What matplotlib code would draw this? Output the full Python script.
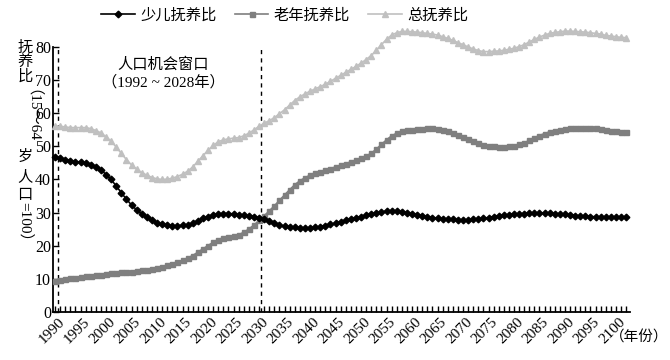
import matplotlib
matplotlib.use("Agg")
import matplotlib.pyplot as plt
from matplotlib.ticker import MultipleLocator
from matplotlib.transforms import offset_copy

plt.rcParams["font.family"] = ["Liberation Serif", "Noto Sans CJK SC", "DejaVu Sans"]
plt.rcParams["axes.unicode_minus"] = False

YEARS = list(range(1990, 2103))

# 少儿抚养比
CHILD = [46.9, 46.5, 46.0, 45.6, 45.4, 45.2, 45.0, 44.5, 43.8, 42.9,
         41.5, 40.0, 38.0, 36.0, 34.0, 32.3, 30.8, 29.6, 28.6, 27.6,
         26.9, 26.4, 26.1, 26.0, 26.0, 26.1, 26.3, 26.8, 27.5, 28.2,
         28.8, 29.3, 29.6, 29.7, 29.7, 29.6, 29.4, 29.2, 29.0, 28.8,
         28.5, 28.0, 27.3, 26.7, 26.2, 25.8, 25.6, 25.5, 25.4, 25.4,
         25.4, 25.5, 25.7, 26.0, 26.4, 26.8, 27.2, 27.6, 28.0, 28.4,
         28.8, 29.2, 29.6, 29.9, 30.2, 30.4, 30.5, 30.4, 30.2, 29.9,
         29.6, 29.3, 29.0, 28.7, 28.5, 28.3, 28.1, 28.0, 27.9, 27.8,
         27.8, 27.8, 27.9, 28.0, 28.2, 28.5, 28.8, 29.0, 29.2, 29.4,
         29.5, 29.6, 29.7, 29.8, 29.8, 29.8, 29.8, 29.8, 29.7, 29.6,
         29.5, 29.3, 29.1, 29.0, 28.9, 28.8, 28.7, 28.7, 28.6, 28.6,
         28.6, 28.6, 28.6]

# 老年抚养比
OLD = [9.3, 9.6, 9.9, 10.1, 10.3, 10.5, 10.7, 10.9, 11.0, 11.2,
       11.4, 11.6, 11.8, 11.9, 12.0, 12.1, 12.3, 12.5, 12.7, 13.0,
       13.3, 13.6, 14.0, 14.4, 14.9, 15.5, 16.2, 17.0, 18.0, 19.0,
       20.0, 21.0, 21.8, 22.3, 22.6, 22.9, 23.3, 24.0, 25.0, 26.2,
       27.6, 29.0, 30.5, 32.0, 33.7, 35.3, 36.9, 38.4, 39.6, 40.5,
       41.3, 41.9, 42.4, 42.8, 43.3, 43.8, 44.3, 44.8, 45.3, 45.8,
       46.4, 47.1, 47.9, 49.2, 50.6, 52.0, 53.2, 54.0, 54.6, 54.9,
       55.1, 55.3, 55.4, 55.5, 55.5, 55.4, 55.1, 54.7, 54.2, 53.6,
       53.0, 52.3, 51.6, 51.0, 50.5, 50.2, 50.0, 49.9, 49.9, 50.0,
       50.2, 50.6, 51.1, 51.8, 52.6, 53.3, 53.9, 54.4, 54.8, 55.1,
       55.4, 55.6, 55.7, 55.7, 55.7, 55.6, 55.5, 55.3, 55.0, 54.8,
       54.6, 54.4, 54.3]

# 总抚养比
TOTAL = [56.2, 56.1, 55.9, 55.7, 55.7, 55.7, 55.7, 55.4, 54.8, 54.1,
         52.9, 51.6, 49.8, 47.9, 46.0, 44.4, 43.1, 42.1, 41.3, 40.6,
         40.2, 40.0, 40.1, 40.4, 40.9, 41.6, 42.5, 43.8, 45.5, 47.2,
         48.8, 50.3, 51.4, 52.0, 52.3, 52.5, 52.7, 53.2, 54.0, 55.0,
         56.1, 57.0, 57.8, 58.7, 59.9, 61.1, 62.5, 63.9, 65.0, 65.9,
         66.7, 67.4, 68.1, 68.8, 69.7, 70.6, 71.5, 72.4, 73.3, 74.2,
         75.2, 76.3, 77.5, 79.1, 80.8, 82.4, 83.7, 84.4, 84.8, 84.8,
         84.7, 84.6, 84.4, 84.2, 84.0, 83.7, 83.2, 82.7, 82.1, 81.4,
         80.8, 80.1, 79.5, 79.0, 78.7, 78.7, 78.8, 78.9, 79.1, 79.4,
         79.7, 80.2, 80.8, 81.6, 82.4, 83.1, 83.7, 84.2, 84.5, 84.7,
         84.9, 84.9, 84.8, 84.7, 84.6, 84.4, 84.2, 84.0, 83.6, 83.4,
         83.2, 83.0, 82.9]

WINDOW = [1990.5, 2030.3]   # 人口机会窗口 dashed lines
XTICKS = list(range(1990, 2101, 5))
YTICKS = list(range(0, 81, 10))

fig = plt.figure(figsize=(6.7, 3.6), dpi=100)
ax = fig.add_axes([0.0784, 0.1342, 0.8619, 0.7344])

ax.plot(YEARS, TOTAL, color="#c0c0c0", marker="^", markersize=4.2, lw=1.2,
        clip_on=False, label="总抚养比", zorder=3)
ax.plot(YEARS, OLD, color="#7f7f7f", marker="s", markersize=3.6, lw=1.2,
        clip_on=False, label="老年抚养比", zorder=4)
ax.plot(YEARS, CHILD, color="black", marker="D", markersize=3.4, lw=1.2,
        clip_on=False, label="少儿抚养比", zorder=5)

for x in WINDOW:
    ax.axvline(x, color="black", lw=1.0, ls=(0, (3, 3)))

ax.set_xlim(1989.5, 2102.75)
ax.set_ylim(0, 80)
for s in ["top", "right"]:
    ax.spines[s].set_visible(False)
ax.spines["left"].set_linewidth(1.3)
ax.spines["bottom"].set_linewidth(1.3)

ax.set_xticks(XTICKS)
ax.set_yticks(YTICKS)
ax.xaxis.set_minor_locator(MultipleLocator(1))
ax.tick_params(axis="x", which="both", direction="in", length=4, width=1.0,
               labelbottom=False)
ax.tick_params(axis="y", which="major", direction="in", length=4, width=1.0,
               pad=1, labelsize=11.5)

# rotated year labels, drawn as texts anchored at their ticks (single font family)
lab_tr = offset_copy(ax.get_xaxis_transform(), fig=fig, x=2, y=-3, units="points")
for yr in XTICKS:
    ax.text(yr, 0, str(yr), transform=lab_tr, rotation=45, ha="right", va="top",
            rotation_mode="anchor", fontsize=11, family="Liberation Serif",
            clip_on=False)

# legend
h, l = ax.get_legend_handles_labels()
order = [2, 1, 0]
fig.legend([h[i] for i in order], [l[i] for i in order], loc="center",
           bbox_to_anchor=(0.425, 0.958), ncol=3, frameon=False, fontsize=11,
           handlelength=2.2, handletextpad=0.35, columnspacing=1.2, numpoints=1)

# annotation
fig.text(163 / 670, 1 - 65 / 360, "人口机会窗口", ha="center", va="center", fontsize=11)
fig.text(163 / 670, 1 - 82 / 360, "（1992 ~ 2028年）", ha="center", va="center", fontsize=11)

# x-axis unit
fig.text(668 / 670, 1 - 338 / 360, "（年份）", ha="right", va="center", fontsize=10.5)

# vertical y label: CJK upright, latin rotated
xl = 25 / 670
for txt, ypix, rot in [("抚", 48, 0), ("养", 62, 0), ("比", 77, 0),
                       ("（15～64", 120, -90), ("岁", 157, 0), ("人", 177, 0),
                       ("口", 195, 0), ("=100）", 225, -90)]:
    fig.text(xl, 1 - ypix / 360, txt, ha="center", va="center", rotation=rot,
             fontsize=11)

fig.savefig("out.png", dpi=100, facecolor="white")
